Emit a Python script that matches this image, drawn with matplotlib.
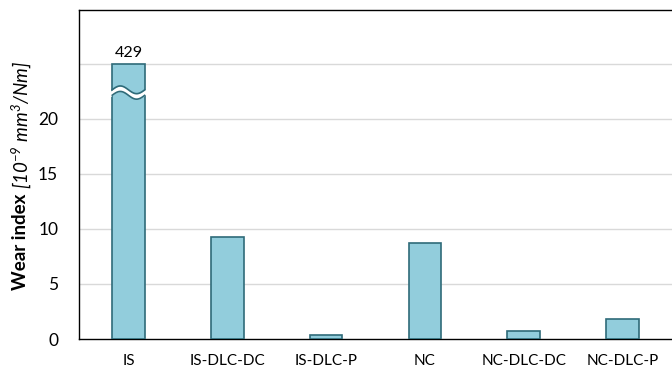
import numpy as np
import matplotlib
matplotlib.use("Agg")
import matplotlib.pyplot as plt

categories = ["IS", "IS-DLC-DC", "IS-DLC-P", "NC", "NC-DLC-DC", "NC-DLC-P"]
values = [429, 9.3, 0.36, 8.7, 0.75, 1.85]
cap = 25
yticks = [0, 5, 10, 15, 20]

plt.rcParams['font.family'] = ['Lato', 'DejaVu Sans']
plt.rcParams['mathtext.fontset'] = 'custom'
plt.rcParams['mathtext.rm'] = 'Lato:italic'
plt.rcParams['mathtext.it'] = 'Lato:italic'
plt.rcParams['mathtext.bf'] = 'Lato:bold'

fig = plt.figure(figsize=(6.72, 3.72), dpi=100)
ax = fig.add_axes([0.1176, 0.0887, 0.8824, 0.8843])

face = "#92CDDC"
edge = "#2F6B79"
x = np.arange(len(categories))
disp = [min(v, cap) for v in values]
ax.bar(x, disp, width=0.33, color=face, edgecolor=edge, linewidth=1.2, zorder=3)

# break mark on the capped bar
for xi, v in zip(x, values):
    if v > cap:
        ax.text(xi, cap + 0.35, f"{v:g}", ha="center", va="bottom", fontsize=11.5, color="#000000")
        xs = np.linspace(xi - 0.2, xi + 0.2, 100)
        wave = 0.35 * np.sin((xs - (xi - 0.165)) / 0.33 * 2 * np.pi)
        y0 = 22.4
        lo = y0 + wave - 0.25
        hi = y0 + wave + 0.25
        ax.fill_between(xs, lo, hi, color="white", zorder=4, linewidth=0)
        m = (xs >= xi - 0.165) & (xs <= xi + 0.165)
        ax.plot(xs[m], lo[m], color=edge, lw=1.2, zorder=5)
        ax.plot(xs[m], hi[m], color=edge, lw=1.2, zorder=5)

ax.set_xlim(-0.5, 5.5)
ax.set_ylim(0, 29.9)
ax.set_yticks(yticks)
ax.set_yticklabels([str(t) for t in yticks], fontsize=12.5)
ax.set_xticks(x)
ax.set_xticklabels(categories, fontsize=11)
for t in [5, 10, 15, 20, 25]:
    ax.axhline(t, color="#D9D9D9", lw=1, zorder=1)
ax.tick_params(axis='x', length=0, pad=11)
ax.tick_params(axis='y', length=0, pad=15)
ax.spines['right'].set_visible(False)
for s in ['left', 'top', 'bottom']:
    ax.spines[s].set_color("black")
    ax.spines[s].set_linewidth(1.0)

# y label: bold part + italic part
fs = 13.5
r = fig.canvas.get_renderer()
t1 = fig.text(0, 0, "Wear index ", rotation=90, fontsize=fs, fontweight="bold",
              ha="center", va="bottom")
t2 = fig.text(0, 0, r"[10$^{-9}$ mm$^{3}$/Nm]", rotation=90, fontsize=fs,
              fontstyle="italic", ha="center", va="bottom")
h1 = t1.get_window_extent(r).height
H = fig.bbox.height
xc = 21 / fig.bbox.width
ystart = (H - 290) / H
t1.set_position((xc, ystart))
t2.set_position((xc, ystart + h1 / H))

fig.savefig("out.png", dpi=100)
